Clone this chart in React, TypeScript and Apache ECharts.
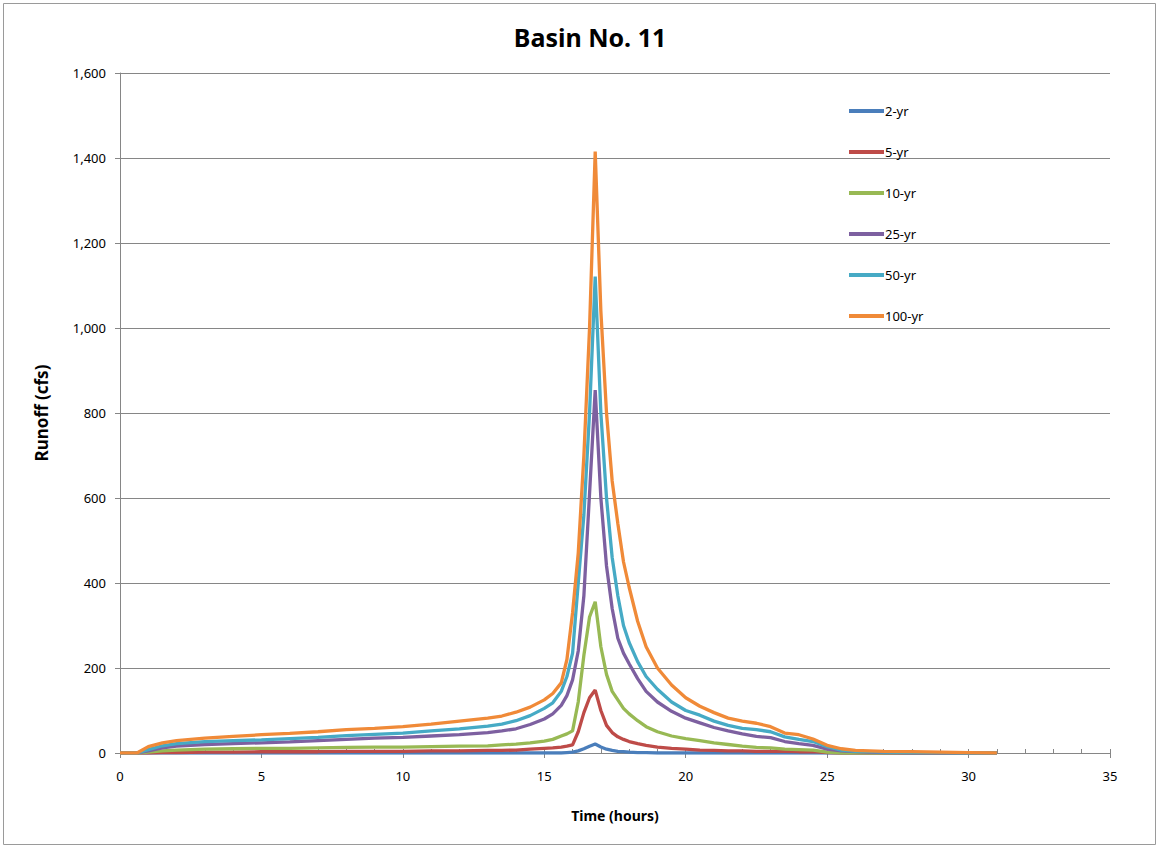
import React, { useEffect, useRef } from "react";
import * as echarts from "echarts";

const times = [0, 0.6, 1, 1.5, 2, 3, 4, 5, 6, 7, 8, 9, 10, 11, 12, 13, 13.5, 14, 14.5, 15, 15.3, 15.6, 15.8, 16.0, 16.2, 16.4, 16.6, 16.8, 17.0, 17.2, 17.4, 17.6, 17.8, 18.0, 18.3, 18.6, 19.0, 19.5, 20, 20.5, 21, 21.5, 22, 22.5, 23, 23.5, 24, 24.5, 25, 25.5, 26, 26.5, 27, 28, 29, 30, 31];

const yr2 = [0, 0, 0, 0, 0, 0, 0, 0, 0, 0, 0, 0, 0, 0, 0, 0, 0, 0, 0, 0, 0, 0, 1, 2, 5, 10, 16, 21, 14, 9, 6, 4, 3, 2, 1, 1, 0, 0, 0, 0, 0, 0, 0, 0, 0, 0, 0, 0, 0, 0, 0, 0, 0, 0, 0, 0, 0];
const yr5 = [0, 0, 0, 1, 1, 2, 2, 3, 3, 3, 4, 4, 4, 5, 5, 6, 6, 7, 9, 11, 12, 14, 16, 19, 50, 95, 130, 148, 100, 65, 48, 38, 32, 27, 22, 18, 14, 11, 9, 7, 6, 5, 5, 4, 4, 4, 3, 3, 1, 0, 0, 0, 0, 0, 0, 0, 0];
const yr10 = [0, 0, 2, 5, 7, 9, 10, 11, 11, 12, 13, 14, 14, 15, 16, 17, 19, 21, 24, 28, 32, 40, 45, 52, 120, 230, 320, 356, 250, 185, 145, 125, 105, 92, 76, 62, 50, 40, 34, 29, 24, 20, 16, 13, 12, 9, 8, 7, 2, 0, 0, 0, 0, 0, 0, 0, 0];
const yr25 = [0, 0, 5, 12, 16, 20, 22, 24, 26, 29, 32, 35, 37, 40, 43, 48, 52, 57, 67, 80, 92, 112, 135, 172, 240, 370, 610, 854, 600, 440, 340, 270, 235, 210, 175, 145, 120, 98, 82, 71, 60, 52, 45, 39, 36, 27, 22, 18, 9, 5, 3, 2, 1, 0, 0, 0, 0];
const yr50 = [0, 0, 8, 17, 22, 27, 29, 31, 34, 37, 41, 44, 47, 52, 57, 63, 68, 76, 88, 105, 118, 145, 180, 235, 400, 560, 800, 1121, 800, 600, 460, 370, 300, 260, 215, 180, 150, 120, 100, 89, 75, 65, 58, 55, 50, 38, 32, 27, 15, 7, 4, 3, 2, 1, 1, 0, 0];
const yr100 = [0, 0, 15, 24, 29, 35, 39, 43, 46, 50, 55, 58, 62, 68, 75, 82, 87, 96, 108, 125, 140, 165, 220, 330, 470, 700, 1000, 1415, 1040, 800, 640, 540, 450, 390, 310, 250, 200, 160, 130, 110, 95, 82, 75, 70, 62, 47, 43, 33, 18, 10, 6, 5, 4, 3, 2, 1, 0];

const seriesNames = ["2-yr", "5-yr", "10-yr", "25-yr", "50-yr", "100-yr"];
const seriesValues = [yr2, yr5, yr10, yr25, yr50, yr100];
const colors = ["#4A7EBB", "#BE4B48", "#98B954", "#7D60A0", "#46AAC5", "#F08A38"];

export default function App() {
  const ref = useRef<HTMLDivElement>(null);
  useEffect(() => {
    if (!ref.current) return;
    const chart = echarts.init(ref.current, undefined, { renderer: "svg" });
    const font = "'Noto Sans', 'Open Sans', sans-serif";
    chart.setOption({
      animation: false,
      backgroundColor: "#ffffff",
      color: colors,
      title: {
        text: "Basin No. 11",
        left: 585,
        textAlign: "center",
        top: 19,
        textStyle: { fontFamily: font, fontSize: 25, fontWeight: "bold", color: "#000" },
      },
      graphic: [
        {
          type: "rect",
          shape: { x: 3.5, y: 3.5, width: 1152, height: 841 },
          style: { fill: "none", stroke: "#9a9a9a", lineWidth: 1 },
          silent: true,
        },
      ],
      legend: {
        orient: "vertical",
        left: 849,
        top: 104,
        padding: 0,
        icon: "rect",
        itemWidth: 35,
        itemHeight: 4,
        itemGap: 27,
        textStyle: { fontFamily: font, fontSize: 13, color: "#000", lineHeight: 14, padding: [0, 0, 0, -4] },
        data: seriesNames,
      },
      grid: { left: 120, right: 49, top: 73, bottom: 95 },
      xAxis: [
        {
          type: "value",
          min: 0,
          max: 35,
          interval: 5,
          name: "Time (hours)",
          nameLocation: "middle",
          nameGap: 55,
          nameTextStyle: { fontFamily: font, fontSize: 14, fontWeight: "bold", color: "#000" },
          axisLine: { lineStyle: { color: "#868686", width: 1 } },
          axisTick: { show: true, inside: false, length: 5, lineStyle: { color: "#868686" } },
          axisLabel: { fontFamily: font, fontSize: 13, color: "#000", margin: 16 },
          splitLine: { show: false },
        },
        {
          type: "value",
          min: 0,
          max: 35,
          interval: 1,
          position: "bottom",
          axisLine: { show: false },
          axisTick: { show: true, inside: true, length: 4, lineStyle: { color: "#868686" } },
          axisLabel: { show: false },
          splitLine: { show: false },
        },
      ],
      yAxis: {
        type: "value",
        min: 0,
        max: 1600,
        interval: 200,
        name: "Runoff (cfs)",
        nameLocation: "middle",
        nameGap: 70,
        nameRotate: 90,
        nameTextStyle: { fontFamily: font, fontSize: 17, fontWeight: "bold", color: "#000" },
        axisLine: { show: true, lineStyle: { color: "#868686", width: 1 } },
        axisTick: { show: true, inside: false, length: 5, lineStyle: { color: "#868686" } },
        axisLabel: {
          fontFamily: font,
          fontSize: 13,
          color: "#000",
          margin: 14,
          formatter: (v: number) => v.toLocaleString("en-US"),
        },
        splitLine: { show: true, lineStyle: { color: "#868686", width: 1 } },
      },
      series: seriesNames.map((name, i) => ({
        name,
        type: "line",
        xAxisIndex: 0,
        showSymbol: false,
        symbol: "none",
        lineStyle: { width: 3.3, color: colors[i] },
        itemStyle: { color: colors[i] },
        data: times.map((t, j) => [t, seriesValues[i][j]]),
      })),
    });
    return () => chart.dispose();
  }, []);
  return <div ref={ref} style={{ position: "fixed", left: 0, top: 0, width: 1159, height: 848 }} />;
}
